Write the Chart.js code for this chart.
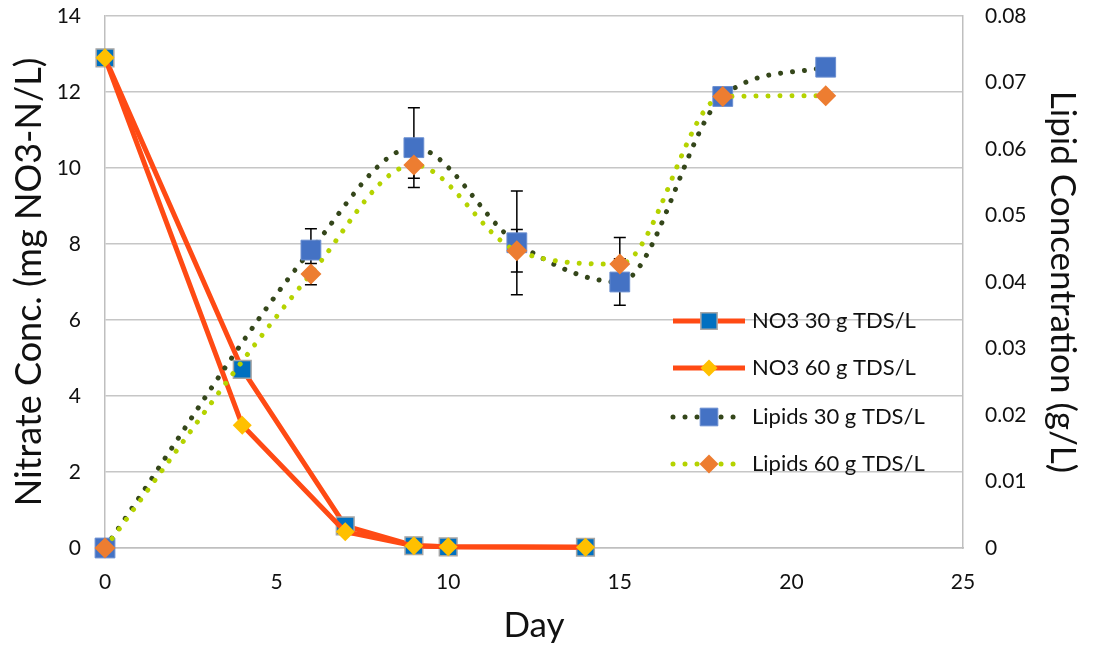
<!DOCTYPE html>
<html><head><meta charset="utf-8">
<script src="https://cdn.jsdelivr.net/npm/chart.js@4/dist/chart.umd.min.js"></script>
<style>html,body{margin:0;padding:0;background:#fff;overflow:hidden;}</style>
</head><body>
<canvas id="c" width="1093" height="650"></canvas>
<script>
// ---- data ----
const no3Days = [0, 4, 7, 9, 10, 14];
const no3_30 = [12.9, 4.7, 0.58, 0.06, 0.03, 0.02];
const no3_60 = [12.9, 3.23, 0.43, 0.06, 0.03, 0.02];
const lipidDays = [0, 6, 9, 12, 15, 18, 21];
const lipid30 = [0, 0.0448, 0.0602, 0.0459, 0.0400, 0.0679, 0.0723];
const lipid30Err = [0, 0.0032, 0.0060, 0.0078, 0.0035, 0, 0];
const lipid60 = [0, 0.0412, 0.0576, 0.0447, 0.0427, 0.0679, 0.0680];
const lipid60Err = [0, 0.0016, 0.0020, 0.0032, 0.0040, 0, 0];
const seriesNames = ['NO3 30 g TDS/L', 'NO3 60 g TDS/L', 'Lipids 30 g TDS/L', 'Lipids 60 g TDS/L'];
const xTickValues = [0, 5, 10, 15, 20, 25];
const yLeftTickValues = [0, 2, 4, 6, 8, 10, 12, 14];
const yRightTickLabels = ['0', '0.01', '0.02', '0.03', '0.04', '0.05', '0.06', '0.07', '0.08'];
const xTitle = 'Day';
const yLeftTitle = 'Nitrate Conc. (mg NO3-N/L)';
const yRightTitle = 'Lipid Concentration (g/L)';

const FONT = 'Lato, "Open Sans", sans-serif';
const pts = (xs, ys) => xs.map((x, i) => ({x: x, y: ys[i]}));

const errorBars = {
  id: 'errorBars',
  beforeDatasetsDraw(chart) {
    const ctx = chart.ctx;
    const sets = [[2, lipid30Err], [3, lipid60Err]];
    ctx.save();
    ctx.strokeStyle = '#000';
    ctx.lineWidth = 1.5;
    sets.forEach(([di, errs]) => {
      const ds = chart.data.datasets[di];
      const ys = chart.scales[ds.yAxisID];
      const xs = chart.scales.x;
      ds.data.forEach((p, i) => {
        const e = errs[i];
        if (!e) return;
        const px = xs.getPixelForValue(p.x);
        const top = ys.getPixelForValue(p.y + e);
        const bot = ys.getPixelForValue(p.y - e);
        ctx.beginPath();
        ctx.moveTo(px, top); ctx.lineTo(px, bot);
        ctx.moveTo(px - 6, top); ctx.lineTo(px + 6, top);
        ctx.moveTo(px - 6, bot); ctx.lineTo(px + 6, bot);
        ctx.stroke();
      });
    });
    ctx.restore();
  }
};

const customLegend = {
  id: 'customLegend',
  afterDraw(chart) {
    const ctx = chart.ctx;
    const ca = chart.chartArea;
    const x0 = ca.left + 568, x1 = ca.left + 640, tx = ca.left + 647;
    const ys = [321, 368, 417, 464];
    chart.data.datasets.forEach((ds, i) => {
      const y = ys[i];
      ctx.save();
      ctx.strokeStyle = ds.borderColor;
      ctx.lineWidth = ds.borderWidth;
      ctx.lineCap = ds.borderCapStyle || 'butt';
      ctx.setLineDash(ds.borderDash || []);
      ctx.beginPath();
      ctx.moveTo(x0, y); ctx.lineTo(x1, y);
      ctx.stroke();
      ctx.restore();
      ctx.save();
      ctx.fillStyle = ds.pointBackgroundColor;
      ctx.strokeStyle = ds.pointBorderColor;
      ctx.lineWidth = ds.pointBorderWidth;
      Chart.helpers.drawPoint(ctx, {
        pointStyle: ds.pointStyle, rotation: 0,
        radius: ds.legendRadius, borderWidth: ds.pointBorderWidth
      }, (x0 + x1) / 2, y);
      ctx.restore();
      ctx.save();
      ctx.fillStyle = '#111';
      ctx.font = '22px ' + FONT;
      ctx.textBaseline = 'middle';
      ctx.textAlign = 'left';
      ctx.fillText(seriesNames[i], tx, y);
      ctx.restore();
    });
  }
};

const tickFont = {family: FONT, size: 21};
const titleFont = {family: FONT, size: 35};
const leftTitleFont = {family: FONT, size: 36};

new Chart(document.getElementById('c'), {
  type: 'scatter',
  data: {
    datasets: [
      {
        label: seriesNames[0], data: pts(no3Days, no3_30), yAxisID: 'y',
        showLine: true, tension: 0, borderColor: '#FF4A14', borderWidth: 5,
        pointStyle: 'rect', pointRadius: 12.5, pointHoverRadius: 12.5, legendRadius: 11.5,
        pointBackgroundColor: '#0070C0', pointBorderColor: '#A6A6A6', pointBorderWidth: 1.5,
        order: 4, clip: false
      },
      {
        label: seriesNames[1], data: pts(no3Days, no3_60), yAxisID: 'y',
        showLine: true, tension: 0, borderColor: '#FF4A14', borderWidth: 5,
        pointStyle: 'rectRot', pointRadius: 9.5, pointHoverRadius: 9.5, legendRadius: 8.5,
        pointBackgroundColor: '#FFC000', pointBorderColor: '#FFC000', pointBorderWidth: 0,
        order: 3, clip: false
      },
      {
        label: seriesNames[2], data: pts(lipidDays, lipid30), yAxisID: 'y2',
        showLine: true, cubicInterpolationMode: 'monotone', borderColor: '#34461A', borderWidth: 5,
        borderDash: [0.01, 12], borderCapStyle: 'round',
        pointStyle: 'rect', pointRadius: 14, pointHoverRadius: 14, legendRadius: 12.5,
        pointBackgroundColor: '#4472C4', pointBorderColor: '#6A8ED0', pointBorderWidth: 1,
        order: 2, clip: false
      },
      {
        label: seriesNames[3], data: pts(lipidDays, lipid60), yAxisID: 'y2',
        showLine: true, cubicInterpolationMode: 'monotone', borderColor: '#B5D300', borderWidth: 5,
        borderDash: [0.01, 12], borderCapStyle: 'round',
        pointStyle: 'rectRot', pointRadius: 10.5, pointHoverRadius: 10.5, legendRadius: 9.5,
        pointBackgroundColor: '#ED7D31', pointBorderColor: '#ED7D31', pointBorderWidth: 0,
        order: 1, clip: false
      }
    ]
  },
  options: {
    responsive: false,
    animation: false,
    devicePixelRatio: 1,
    layout: {padding: {top: 16, left: 0, right: 0, bottom: 0}},
    plugins: {legend: {display: false}, tooltip: {enabled: false}},
    scales: {
      x: {
        type: 'linear', min: 0, max: 25,
        afterBuildTicks: s => { s.ticks = xTickValues.map(v => ({value: v})); },
        ticks: {font: tickFont, color: '#111', padding: 22, maxRotation: 0},
        grid: {display: false, drawTicks: false},
        border: {display: true, color: '#BFBFBF', width: 1.5},
        title: {display: true, text: xTitle, font: titleFont, color: '#111', padding: {top: 0, bottom: 3}},
        afterFit: s => { s.height = 102; s.paddingLeft = 0; s.paddingRight = 0; }
      },
      y: {
        position: 'left', min: 0, max: 14,
        afterBuildTicks: s => { s.ticks = yLeftTickValues.map(v => ({value: v})); },
        ticks: {font: tickFont, color: '#111', padding: 24},
        grid: {color: '#C6C6C6', lineWidth: 1.5, drawTicks: false},
        border: {display: true, color: '#BFBFBF', width: 1.5},
        title: {display: true, text: yLeftTitle, font: leftTitleFont, color: '#111', padding: {top: 8, bottom: 0}},
        afterFit: s => { s.width = 105; s.paddingTop = 0; s.paddingBottom = 0; }
      },
      y2: {
        position: 'right', min: 0, max: 0.08,
        afterBuildTicks: s => { s.ticks = yRightTickLabels.map(v => ({value: parseFloat(v)})); },
        ticks: {font: tickFont, color: '#111', padding: 22, callback: (v, i) => yRightTickLabels[i]},
        grid: {display: false, drawTicks: false},
        border: {display: true, color: '#BFBFBF', width: 1.5},
        title: {display: true, text: yRightTitle, font: titleFont, color: '#111', padding: {top: 10, bottom: 0}},
        afterFit: s => { s.width = 130; s.paddingTop = 0; s.paddingBottom = 0; }
      }
    }
  },
  plugins: [errorBars, customLegend]
});
</script>
</body></html>
